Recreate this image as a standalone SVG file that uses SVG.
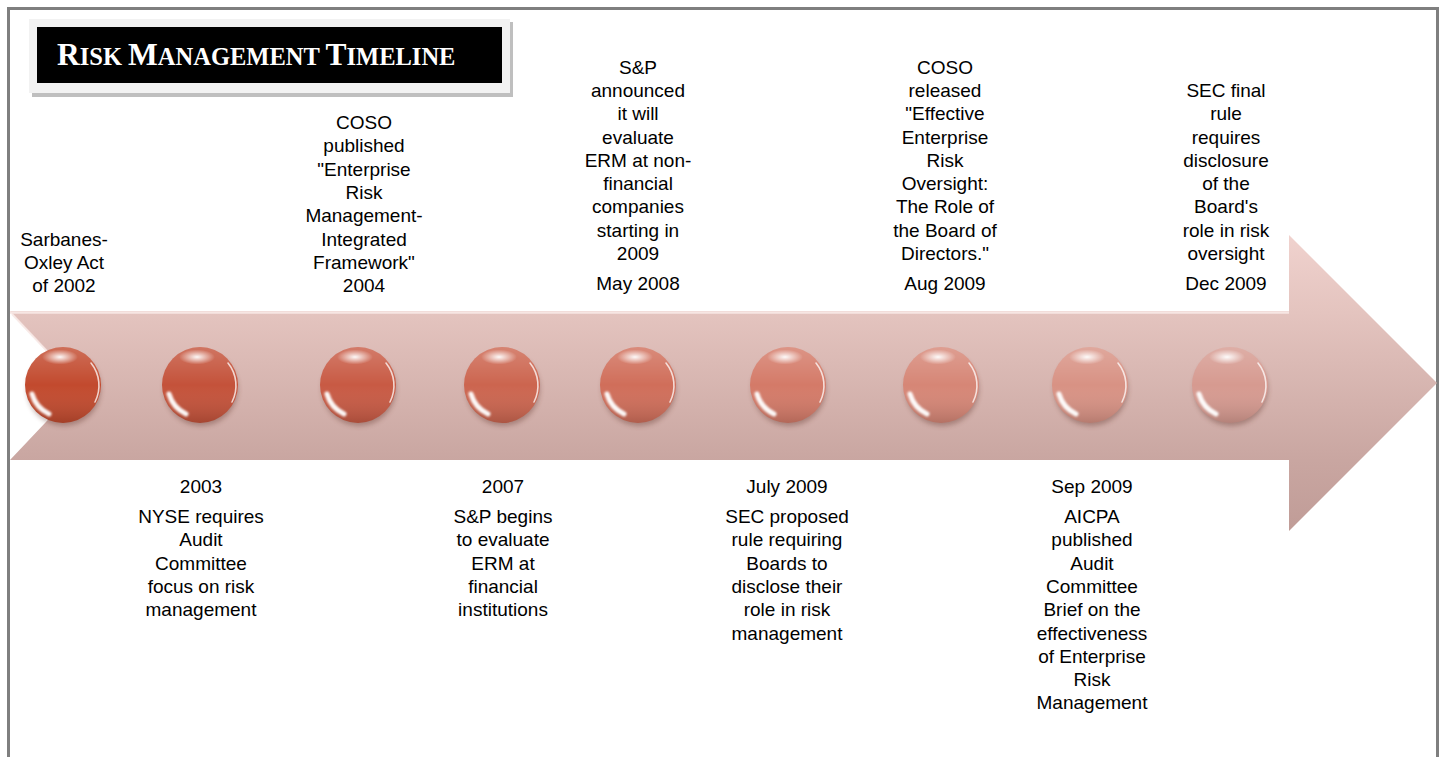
<svg xmlns="http://www.w3.org/2000/svg" width="1444" height="757" viewBox="0 0 1444 757">
<style>
.t{font-family:"Liberation Sans",Arial,sans-serif;font-size:19px;fill:#000;text-anchor:middle}
.ttl{font-family:"Liberation Serif","Times New Roman",serif;font-weight:bold;fill:#fff}
.big{font-size:31.5px}
.sm{font-size:24.5px}
</style>
<defs>
<linearGradient id="band" gradientUnits="userSpaceOnUse" x1="0" y1="235" x2="0" y2="531">
<stop offset="0" stop-color="#f0d2ce"/>
<stop offset="0.26" stop-color="#e4c4bf"/>
<stop offset="0.76" stop-color="#c9a6a1"/>
<stop offset="1" stop-color="#c09c97"/>
</linearGradient>
<linearGradient id="shade" x1="0" y1="0" x2="0" y2="1">
<stop offset="0" stop-color="#fff" stop-opacity="0.2"/>
<stop offset="0.5" stop-color="#fff" stop-opacity="0"/>
<stop offset="1" stop-color="#000" stop-opacity="0.16"/>
</linearGradient>
<radialGradient id="hi" cx="0.5" cy="0.5" r="0.5">
<stop offset="0" stop-color="#fff" stop-opacity="0.95"/>
<stop offset="1" stop-color="#fff" stop-opacity="0"/>
</radialGradient>
<filter id="blur1" x="-50%" y="-50%" width="200%" height="200%"><feGaussianBlur stdDeviation="1.1"/></filter>
<filter id="sh" x="-50%" y="-50%" width="200%" height="200%"><feGaussianBlur stdDeviation="2.5"/></filter>
<g id="shadow"><circle cx="1" cy="4" r="37" fill="#5a2a20" opacity="0.35" filter="url(#sh)"/></g>
<g id="gloss">
<circle r="38" fill="url(#shade)"/>
<ellipse cx="-3" cy="-28" rx="18" ry="7.5" fill="url(#hi)"/>
<path d="M-31,9 A32,32 0 0 0 -14,29" stroke="#fff" stroke-width="5" fill="none" stroke-linecap="round" filter="url(#blur1)" opacity="0.95"/>
<path d="M28,-22 A36,36 0 0 1 32,17" stroke="#fff" stroke-width="1.6" fill="none" stroke-linecap="round" opacity="0.75"/>
</g>
</defs>
<rect x="0" y="0" width="1444" height="757" fill="#fff"/>
<rect id="frame" x="8.5" y="8.5" width="1429" height="800" fill="none" stroke="#7f7f7f" stroke-width="3"/>

<g id="title">
<rect x="32" y="22" width="481" height="75" fill="#bfbfbf"/>
<rect x="29" y="19" width="481" height="74" fill="#f2f2f2"/>
<rect x="37" y="27" width="465" height="56" fill="#000"/>
<text class="ttl" x="57" y="65"><tspan class="big">R</tspan><tspan class="sm">ISK </tspan><tspan class="big">M</tspan><tspan class="sm">ANAGEMENT </tspan><tspan class="big">T</tspan><tspan class="sm">IMELINE</tspan></text>
</g>

<g id="timeline-arrow">
<path d="M10,311 L1289,311 L1289,235 L1437,383 L1289,531 L1289,460 L10,460 L80,386 Z" fill="url(#band)"/>
<path d="M10,312.5 L1289,312.5" stroke="#f7e6e3" stroke-width="2.5"/>
<path d="M12,314 L80,386" stroke="#f7e6e3" stroke-width="2" opacity="0.8"/>
</g>

<g id="event-2002">
<use href="#shadow" x="63" y="385"/>
<circle cx="63" cy="385" r="38" fill="#c24a2e"/>
<use href="#gloss" x="63" y="385"/>
<text class="t"><tspan x="64" y="246">Sarbanes-</tspan><tspan x="64" y="269">Oxley Act</tspan><tspan x="64" y="292">of 2002</tspan></text>
</g>

<g id="event-2003">
<use href="#shadow" x="200" y="385"/>
<circle cx="200" cy="385" r="38" fill="#c4523a"/>
<use href="#gloss" x="200" y="385"/>
<text class="t"><tspan x="201" y="493">2003</tspan><tspan x="201" y="523">NYSE requires</tspan><tspan x="201" y="546.3">Audit</tspan><tspan x="201" y="569.6">Committee</tspan><tspan x="201" y="592.9">focus on risk</tspan><tspan x="201" y="616.2">management</tspan></text>
</g>

<g id="event-2004">
<use href="#shadow" x="358" y="385"/>
<circle cx="358" cy="385" r="38" fill="#c85a44"/>
<use href="#gloss" x="358" y="385"/>
<text class="t"><tspan x="364" y="129">COSO</tspan><tspan x="364" y="152.3">published</tspan><tspan x="364" y="175.6">"Enterprise</tspan><tspan x="364" y="198.9">Risk</tspan><tspan x="364" y="222.2">Management-</tspan><tspan x="364" y="245.5">Integrated</tspan><tspan x="364" y="268.8">Framework"</tspan><tspan x="364" y="292">2004</tspan></text>
</g>

<g id="event-2007">
<use href="#shadow" x="502" y="385"/>
<circle cx="502" cy="385" r="38" fill="#cc654f"/>
<use href="#gloss" x="502" y="385"/>
<text class="t"><tspan x="503" y="493">2007</tspan><tspan x="503" y="523">S&amp;P begins</tspan><tspan x="503" y="546.3">to evaluate</tspan><tspan x="503" y="569.6">ERM at</tspan><tspan x="503" y="592.9">financial</tspan><tspan x="503" y="616.2">institutions</tspan></text>
</g>

<g id="event-may-2008">
<use href="#shadow" x="638" y="385"/>
<circle cx="638" cy="385" r="38" fill="#d06e5a"/>
<use href="#gloss" x="638" y="385"/>
<text class="t"><tspan x="638" y="73.6">S&amp;P</tspan><tspan x="638" y="96.9">announced</tspan><tspan x="638" y="120.2">it will</tspan><tspan x="638" y="143.5">evaluate</tspan><tspan x="638" y="166.8">ERM at non-</tspan><tspan x="638" y="190.1">financial</tspan><tspan x="638" y="213.4">companies</tspan><tspan x="638" y="236.7">starting in</tspan><tspan x="638" y="260">2009</tspan><tspan x="638" y="290">May 2008</tspan></text>
</g>

<g id="event-july-2009">
<use href="#shadow" x="788" y="385"/>
<circle cx="788" cy="385" r="38" fill="#d47a68"/>
<use href="#gloss" x="788" y="385"/>
<text class="t"><tspan x="787" y="493">July 2009</tspan><tspan x="787" y="523">SEC proposed</tspan><tspan x="787" y="546.3">rule requiring</tspan><tspan x="787" y="569.6">Boards to</tspan><tspan x="787" y="592.9">disclose their</tspan><tspan x="787" y="616.2">role in risk</tspan><tspan x="787" y="639.5">management</tspan></text>
</g>

<g id="event-aug-2009">
<use href="#shadow" x="941" y="385"/>
<circle cx="941" cy="385" r="38" fill="#d68676"/>
<use href="#gloss" x="941" y="385"/>
<text class="t"><tspan x="945" y="73.6">COSO</tspan><tspan x="945" y="96.9">released</tspan><tspan x="945" y="120.2">"Effective</tspan><tspan x="945" y="143.5">Enterprise</tspan><tspan x="945" y="166.8">Risk</tspan><tspan x="945" y="190.1">Oversight:</tspan><tspan x="945" y="213.4">The Role of</tspan><tspan x="945" y="236.7">the Board of</tspan><tspan x="945" y="260">Directors."</tspan><tspan x="945" y="290">Aug 2009</tspan></text>
</g>

<g id="event-sep-2009">
<use href="#shadow" x="1090" y="385"/>
<circle cx="1090" cy="385" r="38" fill="#d89284"/>
<use href="#gloss" x="1090" y="385"/>
<text class="t"><tspan x="1092" y="493">Sep 2009</tspan><tspan x="1092" y="523">AICPA</tspan><tspan x="1092" y="546.3">published</tspan><tspan x="1092" y="569.6">Audit</tspan><tspan x="1092" y="592.9">Committee</tspan><tspan x="1092" y="616.2">Brief on the</tspan><tspan x="1092" y="639.5">effectiveness</tspan><tspan x="1092" y="662.8">of Enterprise</tspan><tspan x="1092" y="686.1">Risk</tspan><tspan x="1092" y="709.4">Management</tspan></text>
</g>

<g id="event-dec-2009">
<use href="#shadow" x="1230" y="385"/>
<circle cx="1230" cy="385" r="38" fill="#d69a90"/>
<use href="#gloss" x="1230" y="385"/>
<text class="t"><tspan x="1226" y="96.9">SEC final</tspan><tspan x="1226" y="120.2">rule</tspan><tspan x="1226" y="143.5">requires</tspan><tspan x="1226" y="166.8">disclosure</tspan><tspan x="1226" y="190.1">of the</tspan><tspan x="1226" y="213.4">Board's</tspan><tspan x="1226" y="236.7">role in risk</tspan><tspan x="1226" y="260">oversight</tspan><tspan x="1226" y="290">Dec 2009</tspan></text>
</g>
</svg>
